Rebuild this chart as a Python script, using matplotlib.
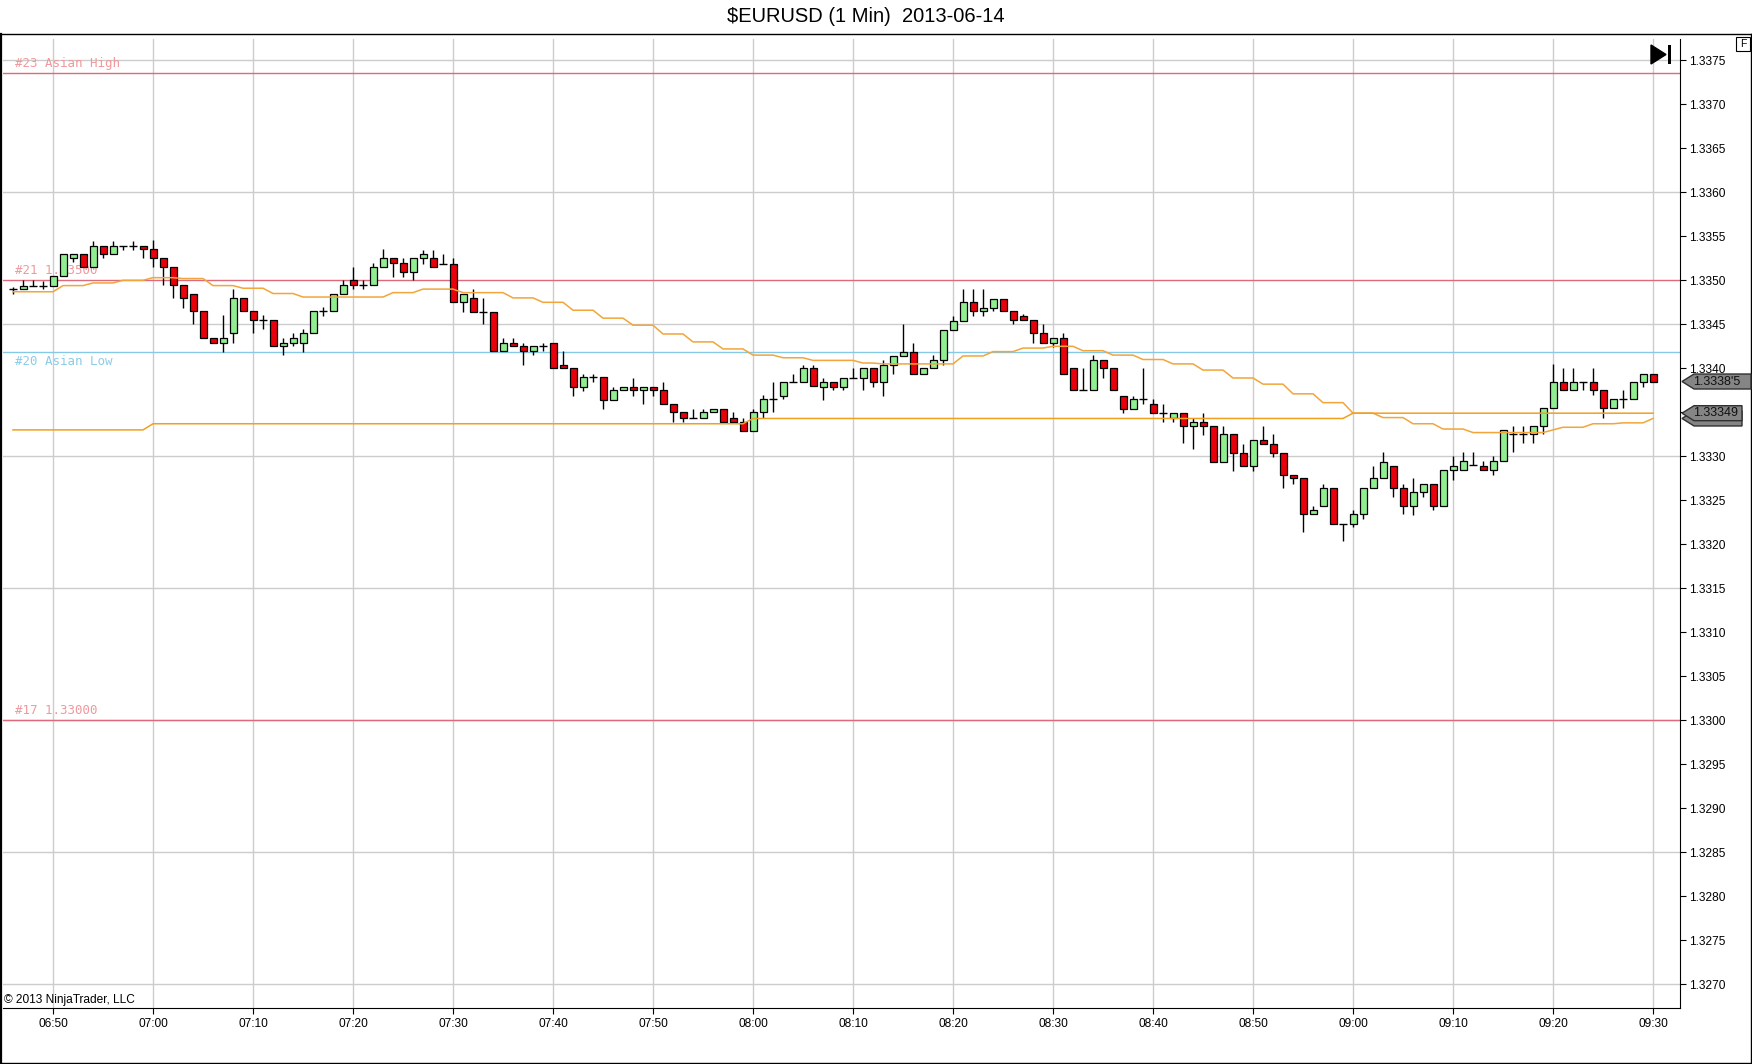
import numpy as np
import pandas as pd
import matplotlib
matplotlib.use('Agg')
import matplotlib.pyplot as plt
import matplotlib.transforms as mtransforms
from matplotlib.patches import Polygon, Rectangle
from matplotlib.lines import Line2D

plt.rcParams['font.family'] = ['Liberation Sans', 'DejaVu Sans']

W, H = 1752, 1064  # output size in pixels

# 1 minute bars, $EURUSD 2013-06-14 from 06:46
opens = [
    1.33490, 1.33490, 1.33494, 1.33494, 1.33494, 1.33505, 1.33525, 1.33530, 1.33515, 1.33539,
    1.33530, 1.33539, 1.33539, 1.33539, 1.33536, 1.33525, 1.33515, 1.33495, 1.33485, 1.33465,
    1.33434, 1.33429, 1.33440, 1.33480, 1.33465, 1.33455, 1.33455, 1.33425, 1.33429, 1.33429,
    1.33440, 1.33465, 1.33465, 1.33485, 1.33500, 1.33495, 1.33495, 1.33515, 1.33525, 1.33520,
    1.33510, 1.33525, 1.33525, 1.33519, 1.33519, 1.33475, 1.33480, 1.33464, 1.33464, 1.33420,
    1.33429, 1.33425, 1.33420, 1.33425, 1.33429, 1.33404, 1.33400, 1.33379, 1.33390, 1.33390,
    1.33364, 1.33375, 1.33379, 1.33375, 1.33379, 1.33375, 1.33359, 1.33350, 1.33344, 1.33344,
    1.33350, 1.33354, 1.33344, 1.33339, 1.33329, 1.33350, 1.33365, 1.33369, 1.33384, 1.33384,
    1.33400, 1.33379, 1.33384, 1.33379, 1.33389, 1.33389, 1.33400, 1.33384, 1.33404, 1.33414,
    1.33419, 1.33394, 1.33400, 1.33409, 1.33444, 1.33454, 1.33475, 1.33465, 1.33469, 1.33479,
    1.33465, 1.33460, 1.33455, 1.33440, 1.33429, 1.33434, 1.33400, 1.33375, 1.33375, 1.33409,
    1.33400, 1.33369, 1.33354, 1.33365, 1.33359, 1.33349, 1.33344, 1.33349, 1.33334, 1.33339,
    1.33334, 1.33294, 1.33325, 1.33304, 1.33289, 1.33319, 1.33314, 1.33304, 1.33279, 1.33275,
    1.33234, 1.33244, 1.33264, 1.33223, 1.33223, 1.33234, 1.33264, 1.33275, 1.33289, 1.33264,
    1.33244, 1.33259, 1.33269, 1.33243, 1.33284, 1.33284, 1.33290, 1.33289, 1.33284, 1.33295,
    1.33325, 1.33325, 1.33325, 1.33334, 1.33355, 1.33384, 1.33375, 1.33384, 1.33384, 1.33375,
    1.33355, 1.33365, 1.33365, 1.33384, 1.33394,
]
highs = [
    1.33492, 1.33500, 1.33500, 1.33499, 1.33505, 1.33530, 1.33530, 1.33530, 1.33545, 1.33539,
    1.33545, 1.33539, 1.33545, 1.33539, 1.33546, 1.33525, 1.33515, 1.33495, 1.33485, 1.33465,
    1.33434, 1.33461, 1.33490, 1.33480, 1.33465, 1.33461, 1.33455, 1.33434, 1.33440, 1.33445,
    1.33465, 1.33470, 1.33485, 1.33500, 1.33515, 1.33500, 1.33520, 1.33536, 1.33525, 1.33525,
    1.33525, 1.33535, 1.33535, 1.33530, 1.33525, 1.33485, 1.33490, 1.33480, 1.33464, 1.33434,
    1.33434, 1.33429, 1.33425, 1.33429, 1.33429, 1.33420, 1.33400, 1.33394, 1.33394, 1.33390,
    1.33379, 1.33379, 1.33389, 1.33379, 1.33379, 1.33384, 1.33359, 1.33350, 1.33354, 1.33354,
    1.33354, 1.33354, 1.33350, 1.33344, 1.33354, 1.33370, 1.33384, 1.33384, 1.33394, 1.33404,
    1.33404, 1.33389, 1.33384, 1.33389, 1.33400, 1.33400, 1.33400, 1.33409, 1.33414, 1.33450,
    1.33429, 1.33400, 1.33415, 1.33444, 1.33460, 1.33490, 1.33490, 1.33490, 1.33479, 1.33479,
    1.33465, 1.33462, 1.33455, 1.33450, 1.33434, 1.33440, 1.33400, 1.33400, 1.33415, 1.33409,
    1.33400, 1.33369, 1.33369, 1.33400, 1.33365, 1.33359, 1.33349, 1.33349, 1.33344, 1.33349,
    1.33334, 1.33334, 1.33325, 1.33314, 1.33319, 1.33334, 1.33325, 1.33304, 1.33279, 1.33275,
    1.33244, 1.33269, 1.33264, 1.33223, 1.33239, 1.33264, 1.33289, 1.33305, 1.33289, 1.33269,
    1.33275, 1.33269, 1.33269, 1.33284, 1.33300, 1.33305, 1.33305, 1.33295, 1.33300, 1.33330,
    1.33334, 1.33334, 1.33334, 1.33355, 1.33405, 1.33400, 1.33400, 1.33384, 1.33400, 1.33375,
    1.33365, 1.33375, 1.33384, 1.33394, 1.33394,
]
lows = [
    1.33485, 1.33490, 1.33494, 1.33490, 1.33494, 1.33505, 1.33521, 1.33515, 1.33515, 1.33525,
    1.33530, 1.33535, 1.33535, 1.33525, 1.33515, 1.33495, 1.33480, 1.33469, 1.33450, 1.33434,
    1.33429, 1.33419, 1.33429, 1.33465, 1.33440, 1.33445, 1.33425, 1.33415, 1.33425, 1.33419,
    1.33440, 1.33460, 1.33465, 1.33485, 1.33490, 1.33490, 1.33495, 1.33515, 1.33504, 1.33504,
    1.33500, 1.33519, 1.33515, 1.33519, 1.33475, 1.33464, 1.33464, 1.33450, 1.33420, 1.33420,
    1.33425, 1.33404, 1.33415, 1.33420, 1.33400, 1.33400, 1.33369, 1.33374, 1.33385, 1.33354,
    1.33364, 1.33375, 1.33369, 1.33359, 1.33369, 1.33359, 1.33339, 1.33339, 1.33344, 1.33344,
    1.33350, 1.33339, 1.33339, 1.33329, 1.33329, 1.33344, 1.33350, 1.33365, 1.33384, 1.33384,
    1.33380, 1.33364, 1.33375, 1.33375, 1.33389, 1.33375, 1.33379, 1.33369, 1.33394, 1.33414,
    1.33394, 1.33394, 1.33400, 1.33404, 1.33444, 1.33454, 1.33460, 1.33460, 1.33465, 1.33465,
    1.33450, 1.33455, 1.33429, 1.33429, 1.33424, 1.33394, 1.33375, 1.33375, 1.33375, 1.33389,
    1.33375, 1.33349, 1.33354, 1.33359, 1.33349, 1.33339, 1.33339, 1.33315, 1.33308, 1.33324,
    1.33294, 1.33294, 1.33283, 1.33289, 1.33283, 1.33314, 1.33299, 1.33264, 1.33269, 1.33214,
    1.33234, 1.33244, 1.33223, 1.33204, 1.33220, 1.33229, 1.33264, 1.33275, 1.33254, 1.33234,
    1.33233, 1.33254, 1.33239, 1.33243, 1.33273, 1.33284, 1.33290, 1.33284, 1.33279, 1.33295,
    1.33305, 1.33315, 1.33315, 1.33325, 1.33355, 1.33375, 1.33375, 1.33375, 1.33370, 1.33344,
    1.33355, 1.33355, 1.33365, 1.33379, 1.33384,
]
closes = [
    1.33490, 1.33494, 1.33494, 1.33494, 1.33505, 1.33530, 1.33530, 1.33515, 1.33539, 1.33530,
    1.33539, 1.33539, 1.33539, 1.33536, 1.33525, 1.33515, 1.33495, 1.33480, 1.33465, 1.33434,
    1.33429, 1.33434, 1.33480, 1.33465, 1.33455, 1.33455, 1.33425, 1.33429, 1.33434, 1.33440,
    1.33465, 1.33465, 1.33485, 1.33495, 1.33495, 1.33495, 1.33515, 1.33525, 1.33520, 1.33510,
    1.33525, 1.33530, 1.33515, 1.33519, 1.33475, 1.33485, 1.33464, 1.33464, 1.33420, 1.33429,
    1.33425, 1.33420, 1.33425, 1.33425, 1.33400, 1.33400, 1.33379, 1.33390, 1.33390, 1.33364,
    1.33375, 1.33379, 1.33375, 1.33379, 1.33375, 1.33359, 1.33350, 1.33344, 1.33344, 1.33350,
    1.33354, 1.33339, 1.33339, 1.33329, 1.33350, 1.33365, 1.33365, 1.33384, 1.33384, 1.33400,
    1.33380, 1.33384, 1.33379, 1.33389, 1.33389, 1.33400, 1.33384, 1.33404, 1.33414, 1.33419,
    1.33394, 1.33400, 1.33409, 1.33444, 1.33454, 1.33475, 1.33465, 1.33469, 1.33479, 1.33465,
    1.33455, 1.33455, 1.33440, 1.33429, 1.33434, 1.33394, 1.33375, 1.33375, 1.33409, 1.33400,
    1.33375, 1.33354, 1.33365, 1.33365, 1.33349, 1.33349, 1.33349, 1.33334, 1.33339, 1.33334,
    1.33294, 1.33325, 1.33304, 1.33289, 1.33319, 1.33314, 1.33304, 1.33279, 1.33275, 1.33234,
    1.33239, 1.33264, 1.33223, 1.33223, 1.33234, 1.33264, 1.33275, 1.33294, 1.33264, 1.33244,
    1.33259, 1.33269, 1.33243, 1.33284, 1.33289, 1.33295, 1.33290, 1.33284, 1.33295, 1.33330,
    1.33325, 1.33325, 1.33334, 1.33355, 1.33384, 1.33375, 1.33384, 1.33384, 1.33375, 1.33355,
    1.33365, 1.33365, 1.33384, 1.33394, 1.33384,
]

# the two orange indicator lines, read as (level, number of bars) steps
upper_levels = [1.33487, 1.33494, 1.33497, 1.33500, 1.33503, 1.33502, 1.33494, 1.33491,
                1.33485, 1.33481, 1.33486, 1.33490, 1.33486, 1.33480, 1.33475, 1.33466,
                1.33457, 1.33449, 1.33439, 1.33430, 1.33422, 1.33415, 1.33412, 1.33409,
                1.33406, 1.33405, 1.33414, 1.33419, 1.33423, 1.33425, 1.33420, 1.33415,
                1.33410, 1.33405, 1.33398, 1.33389, 1.33382, 1.33371, 1.33361, 1.33349,
                1.33344, 1.33337, 1.33331, 1.33327, 1.33330, 1.33333, 1.33337, 1.33338,
                1.33343]
upper_counts = [5, 3, 3, 3, 3, 3, 3, 3,
                3, 9, 3, 4, 5, 3, 3, 3,
                3, 3, 3, 3, 3, 3, 3, 5,
                2, 8, 3, 3, 3, 3, 3, 3,
                3, 3, 3, 3, 3, 3, 3, 3,
                3, 3, 3, 8, 1, 3, 3, 3,
                1]
lower_levels = [1.33330, 1.33337, 1.33343, 1.33349]
lower_counts = [14, 60, 60, 31]

# drawn horizontal lines
level_prices = [1.33736, 1.33500, 1.33419, 1.33000]
level_labels = ['#23 Asian High', '#21 1.33500', '#20 Asian Low', '#17 1.33000']
level_label_below = [False, False, True, False]
level_line_colors = ['#dd6a7c', '#dd6a7c', '#86c9e6', '#dd6a7c']
level_text_colors = ['#f0989c', '#f0989c', '#8ccbea', '#f0989c']

# price markers on the right axis (back to front); the back one is hidden
marker_prices = [1.33343, 1.33349, 1.33385]
marker_texts = ['', '1.33349', "1.3338'5"]
marker_right = [1742, 1742, 1751]

o = np.array(opens)
h = np.array(highs)
l = np.array(lows)
c = np.array(closes)
x = np.arange(len(c))
times = pd.date_range('2013-06-14 06:46', periods=len(c), freq='min')

fig = plt.figure(figsize=(W / 100, H / 100), dpi=100)
fig.patch.set_facecolor('white')

def fx(px):
    return px / W

def fy(py):
    return 1 - py / H

ax_left, ax_right, ax_top, ax_bottom = 3, 1680, 39, 1008
ax = fig.add_axes([fx(ax_left), fy(ax_bottom), (ax_right - ax_left) / W, (ax_bottom - ax_top) / H])
ax.set_facecolor('white')
ax.set_xlim(-1.0, 166.7)
ax.set_ylim(1.326731, 1.337742)

# grid
yticks = np.arange(13270, 13376, 5) / 10000
for g in yticks[::3]:
    ax.axhline(g, color='#cccccc', lw=1, zorder=0)
tick_idx = [i for i, t in enumerate(times) if t.minute % 10 == 0]
ax.set_xticks(tick_idx)
ax.set_xticklabels(times[tick_idx].strftime('%H:%M'))
ax.grid(axis='x', color='#cccccc', lw=1, zorder=0)
ax.set_axisbelow(True)

# level lines and their labels
base = mtransforms.blended_transform_factory(ax.transAxes, ax.transData)
above = mtransforms.offset_copy(base, fig=fig, y=3, units='dots')
below = mtransforms.offset_copy(base, fig=fig, y=-3, units='dots')
for p, lab, lc, tc, dn in zip(level_prices, level_labels, level_line_colors,
                              level_text_colors, level_label_below):
    ax.axhline(p, color=lc, lw=1, zorder=1)
    ax.text(0.007, p, lab, transform=below if dn else above, color=tc, fontsize=9,
            family='DejaVu Sans Mono', va='top' if dn else 'bottom', ha='left', zorder=1.5)

# candles
up = c > o
down = c < o
flat = c == o
ax.vlines(x, l, h, color='black', lw=1, zorder=3)
bottom = np.minimum(o, c)
height = np.abs(c - o)
ax.bar(x[up], height[up], 0.7, bottom=bottom[up], facecolor='#90ee90',
       edgecolor='black', lw=0.9, zorder=4)
ax.bar(x[down], height[down], 0.7, bottom=bottom[down], facecolor='#e8000b',
       edgecolor='black', lw=0.9, zorder=4)
ax.hlines(c[flat], x[flat] - 0.38, x[flat] + 0.38, color='black', lw=1, zorder=4)

# indicator lines
ax.plot(x, np.repeat(upper_levels, upper_counts), color='#f2a53a', lw=1.1, zorder=5)
ax.plot(x, np.repeat(lower_levels, lower_counts), color='#f0a020', lw=1.1, zorder=5)

# axes look; the 1.3335 label sits under the price marker, as on the original
ax.yaxis.tick_right()
ax.set_yticks(yticks)
ax.set_yticklabels(['' if abs(v - 1.3335) < 1e-9 else '%.4f' % v for v in yticks])
ax.tick_params(axis='y', direction='out', length=4.5, width=0.8, pad=2, labelsize=8.6, colors='black')
ax.tick_params(axis='x', direction='out', length=4, width=0.8, pad=3, labelsize=8.6, colors='black')
ax.spines['top'].set_visible(False)
ax.spines['left'].set_visible(False)
ax.spines['right'].set_color('black')
ax.spines['bottom'].set_color('black')

# price markers on the axis
ymin, ymax = ax.get_ylim()
k = (ax_bottom - ax_top) / (ymax - ymin)
half = 7.5 / k
mtrans = mtransforms.blended_transform_factory(fig.transFigure, ax.transData)
for n, (p, txt, r) in enumerate(zip(marker_prices, marker_texts, marker_right)):
    verts = [(fx(1682), p), (fx(1694), p + half), (fx(r), p + half),
             (fx(r), p - half), (fx(1694), p - half)]
    fig.add_artist(Polygon(verts, closed=True, transform=mtrans, facecolor='#858585',
                           edgecolor='#303030', lw=1, clip_on=False, zorder=4 + n))
    if txt:
        fig.add_artist(plt.Text(fx(1693), p, txt, transform=mtrans, fontsize=9, va='center',
                                ha='left', color='#111111', zorder=4.5 + n))

# outer frame
frame = dict(transform=fig.transFigure, color='black', lw=1)
fig.add_artist(Line2D([0, 1], [fy(34), fy(34)], **frame))
fig.add_artist(Line2D([fx(0.8), fx(0.8)], [fy(34), fy(1063)], color='black', lw=1.6,
                      transform=fig.transFigure))
fig.add_artist(Line2D([fx(1750.5), fx(1750.5)], [fy(34), fy(1063)], **frame))
fig.add_artist(Line2D([0, 1], [fy(1063.2), fy(1063.2)], **frame))

# title and small text
fig.text(fx(866), fy(17), r'\$EURUSD (1 Min)  2013-06-14', ha='center', va='center', fontsize=14.5)
fig.text(fx(4), fy(1003), '\u00a9 2013 NinjaTrader, LLC', ha='left', va='baseline', fontsize=8.6)

# "F" box and jump-to-end button
fig.add_artist(Rectangle((fx(1736), fy(51)), 14 / W, 14 / H, transform=fig.transFigure,
                         facecolor='white', edgecolor='black', lw=0.8))
fig.text(fx(1743), fy(44), 'F', ha='center', va='center', fontsize=7.5)
fig.add_artist(Polygon([(fx(1651), fy(45)), (fx(1651), fy(64)), (fx(1666), fy(54.5))],
                       closed=True, transform=fig.transFigure, facecolor='black', edgecolor='black'))
fig.add_artist(Rectangle((fx(1668), fy(64)), 3 / W, 19 / H, transform=fig.transFigure,
                         facecolor='black', edgecolor='none'))

fig.savefig('out.png', dpi=100)
